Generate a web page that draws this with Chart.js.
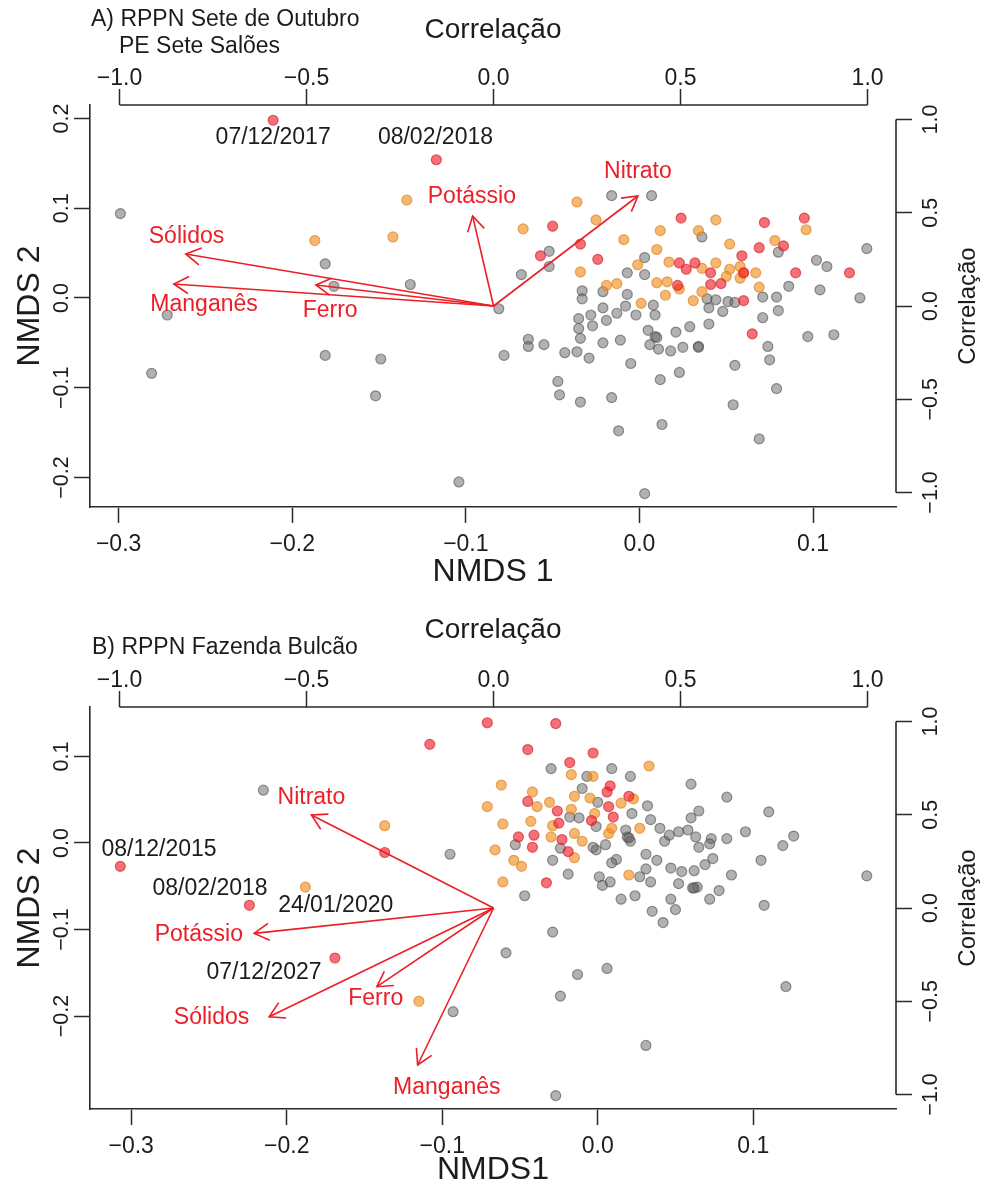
<!DOCTYPE html>
<html><head><meta charset="utf-8">
<script src="https://cdn.jsdelivr.net/npm/chart.js@4.4.1/dist/chart.umd.min.js"></script>
<style>
html,body{margin:0;padding:0;background:#fff;overflow:hidden;width:983px;height:1187px;}
.panel{position:absolute;left:0;width:983px;height:600px;}
#wa{top:0}#wb{top:600px}
canvas{display:block}
</style></head><body>
<div class="panel" id="wa"><canvas id="ca" width="983" height="600" style="width:983px;height:600px"></canvas></div>
<div class="panel" id="wb"><canvas id="cb" width="983" height="600" style="width:983px;height:600px"></canvas></div>
<script>
// ---------- tick labels ----------
const nmdsXTicks = [-0.3, -0.2, -0.1, 0.0, 0.1];
const nmdsYTicksA = [-0.2, -0.1, 0.0, 0.1, 0.2];
const nmdsYTicksB = [-0.2, -0.1, 0.0, 0.1];
const corrTicks = [-1.0, -0.5, 0.0, 0.5, 1.0];

// ---------- Panel A: RPPN Sete de Outubro / PE Sete Salões ----------
const grayA = [
[-0.299,0.094],[-0.181,0.038],[-0.176,0.013],[-0.132,0.015],[-0.272,-0.019],[-0.081,-0.012],
[-0.181,-0.064],[-0.149,-0.068],[-0.281,-0.084],[-0.152,-0.109],[-0.104,-0.205],[-0.078,-0.064],
[-0.016,0.114],[0.007,0.114],[-0.052,0.052],[-0.052,0.035],[-0.068,0.026],[0.003,0.045],
[-0.007,0.028],[0.003,0.026],[0.036,0.068],[0.080,0.051],[0.131,0.055],[0.102,0.042],
[0.108,0.035],[0.127,0.000],[0.104,0.009],[0.086,0.013],[0.079,0.001],[0.071,0.001],
[0.080,-0.014],[0.071,-0.022],[0.097,-0.043],[0.112,-0.041],[0.074,-0.054],[0.075,-0.069],
[0.055,-0.075],[0.079,-0.101],[0.054,-0.119],[0.069,-0.157],[0.003,-0.218],[0.013,-0.141],
[-0.012,-0.148],[-0.016,-0.111],[-0.034,-0.116],[-0.046,-0.108],[-0.047,-0.093],[0.012,-0.091],
[0.023,-0.083],[-0.005,-0.073],[-0.029,-0.067],[-0.036,-0.060],[-0.043,-0.061],[-0.055,-0.052],
[-0.064,-0.054],[-0.064,-0.046],[-0.034,-0.045],[-0.035,-0.034],[-0.035,-0.023],[-0.033,0.008],
[-0.033,-0.001],[-0.021,0.007],[-0.021,-0.011],[-0.028,-0.019],[-0.027,-0.031],[-0.019,-0.025],
[-0.013,-0.017],[-0.008,-0.009],[-0.007,0.004],[-0.002,-0.019],[-0.021,-0.050],[-0.011,-0.047],
[0.005,-0.036],[0.008,-0.008],[0.009,-0.019],[0.009,-0.043],[0.006,-0.052],[0.011,-0.057],
[0.018,-0.059],[0.025,-0.055],[0.021,-0.038],[0.029,-0.032],[0.034,-0.054],[0.040,-0.029],
[0.040,-0.011],[0.039,-0.001],[0.044,-0.002],[0.048,-0.015],[0.051,-0.004],[0.055,-0.005],
[0.010,-0.044],[0.034,-0.055]
];
const orangeA = [
[-0.187,0.064],[-0.142,0.068],[-0.134,0.109],[-0.036,0.107],[-0.067,0.077],[-0.025,0.087],
[-0.009,0.065],[0.012,0.075],[0.044,0.087],[0.034,0.075],[0.052,0.060],[0.078,0.064],
[0.096,0.076],[0.010,0.054],[-0.001,0.037],[-0.034,0.029],[0.017,0.040],[0.036,0.033],
[0.044,0.039],[0.052,0.032],[0.058,0.035],[0.067,0.028],[0.050,0.024],[0.058,0.022],
[0.010,0.017],[0.016,0.018],[0.023,0.010],[0.015,0.003],[-0.013,0.016],[-0.019,0.014],
[0.001,-0.006],[0.031,-0.003],[0.036,0.007],[0.069,0.012],[0.060,0.028]
];
const redA = [
[-0.211,0.198],[-0.117,0.154],[-0.050,0.080],[-0.057,0.047],[-0.034,0.060],[-0.024,0.043],
[0.024,0.089],[0.072,0.084],[0.095,0.089],[0.069,0.056],[0.083,0.058],[0.059,0.047],
[0.023,0.039],[0.027,0.032],[0.032,0.039],[0.041,0.028],[0.041,0.015],[0.047,0.016],
[0.022,0.014],[0.060,0.028],[0.060,-0.003],[0.090,0.028],[0.121,0.028],[0.065,-0.040]
];
const envA = ['Sólidos', 'Manganês', 'Ferro', 'Potássio', 'Nitrato'];
const arrowA_x = [-0.823, -0.855, -0.475, -0.056, 0.386];
const arrowA_y = [0.279, 0.118, 0.113, 0.483, 0.590];
const labelA_x = [-0.821, -0.774, -0.437, -0.058, 0.386];
const labelA_y = [0.372, 0.009, -0.027, 0.584, 0.720];
const datesA = ['07/12/2017', '08/02/2018'];
const datesA_x = [-0.211, -0.1175];
const datesA_y = [0.1786, 0.1786];

// ---------- Panel B: RPPN Fazenda Bulcão ----------
const grayB = [
[-0.215,0.061],[-0.095,-0.013],[-0.059,-0.127],[-0.093,-0.195],
[-0.030,0.086],[0.009,0.086],[0.021,0.077],[-0.007,0.077],[-0.010,0.063],[0.000,0.047],
[0.032,0.043],[0.022,0.034],[-0.018,0.030],[-0.012,0.029],[-0.001,0.019],[0.034,0.027],
[0.040,0.017],[0.060,0.068],[0.083,0.053],[0.065,0.037],[0.060,0.029],[0.110,0.036],
[0.046,0.009],[0.052,0.013],[0.058,0.015],[0.043,0.002],[0.063,0.007],[0.065,-0.005],
[0.073,0.005],[0.072,-0.001],[0.083,0.005],[0.095,0.013],[0.126,0.008],[0.119,-0.003],
[0.105,-0.020],[0.086,-0.037],[0.074,-0.018],[0.069,-0.025],[0.062,-0.032],[0.054,-0.033],
[0.047,-0.029],[0.038,-0.020],[0.031,-0.013],[0.031,-0.030],[0.034,-0.045],[0.027,-0.039],
[0.019,0.007],[0.021,0.002],[0.018,0.015],[0.012,-0.019],[0.009,-0.023],[0.005,-0.002],
[-0.001,-0.008],[-0.003,-0.005],[0.001,-0.039],[0.003,-0.049],[0.008,-0.045],[0.015,-0.065],
[0.024,-0.061],[0.035,-0.079],[0.042,-0.092],[0.047,-0.065],[0.050,-0.077],[0.052,-0.047],
[0.061,-0.052],[0.064,-0.051],[0.072,-0.065],[0.078,-0.055],[0.107,-0.072],[0.173,-0.038],
[-0.019,-0.036],[-0.029,-0.020],[-0.024,-0.006],[-0.053,-0.002],[-0.047,-0.061],[-0.029,-0.103],
[-0.013,-0.152],[0.006,-0.145],[-0.024,-0.177],[0.031,-0.234],[0.121,-0.166],[-0.027,-0.292],
[0.020,0.006],[0.062,-0.052]
];
const orangeB = [
[-0.062,0.067],[-0.071,0.042],[-0.061,0.022],[-0.066,-0.008],[-0.061,-0.045],[-0.137,0.020],
[-0.188,-0.051],[-0.115,-0.183],
[0.033,0.089],[-0.017,0.079],[-0.003,0.077],[-0.042,0.059],[-0.039,0.042],[-0.031,0.047],
[-0.015,0.054],[-0.017,0.039],[-0.005,0.052],[-0.002,0.034],[0.015,0.046],[0.023,0.051],
[-0.043,0.025],[-0.029,0.020],[-0.030,0.007],[-0.015,0.011],[-0.010,0.002],[0.007,0.011],
[0.009,0.017],[0.027,0.017],[-0.054,-0.020],[-0.049,-0.027],[-0.015,-0.017],[0.020,-0.037]
];
const redB = [
[-0.307,-0.027],[-0.224,-0.072],[-0.169,-0.133],
[-0.071,0.139],[-0.108,0.114],[-0.137,-0.011],
[-0.027,0.138],[-0.045,0.108],[-0.018,0.093],[-0.003,0.104],[0.008,0.066],[0.006,0.059],
[-0.045,0.048],[-0.026,0.037],[-0.025,0.023],[-0.004,0.026],[0.007,0.042],[0.010,0.030],
[0.020,0.054],[-0.051,0.007],[-0.041,0.009],[-0.042,-0.005],[-0.023,0.004],[-0.019,-0.010],
[-0.033,-0.046]
];
const envB = ['Nitrato', 'Potássio', 'Sólidos', 'Ferro', 'Manganês'];
const arrowB_x = [-0.487, -0.640, -0.600, -0.312, -0.203];
const arrowB_y = [0.499, -0.136, -0.583, -0.422, -0.842];
const labelB_x = [-0.487, -0.788, -0.754, -0.315, -0.125];
const labelB_y = [0.594, -0.141, -0.588, -0.484, -0.961];
const datesB = ['08/12/2015', '08/02/2018', '24/01/2020', '07/12/2027'];
const datesB_x = [-0.2821, -0.2493, -0.1685, -0.2146];
const datesB_y = [-0.0073, -0.0524, -0.0725, -0.1495];

// ---------- styling ----------
const FONT = "'Liberation Sans', Arial, Helvetica, sans-serif";
const TXT = '#1c1c1c';
const AX = '#2a2a2a';
const RED = 'rgb(236,30,38)';

function fmt(v) {
  const s = Math.abs(v).toFixed(1);
  return (v < -1e-9 ? '\u2212' : '') + s;
}
function pts(arr) { return arr.map(p => ({x: p[0], y: p[1]})); }

const extras = {
  id: 'extras',
  afterDatasetsDraw(chart, args, o) {
    const ctx = chart.ctx, ca = chart.chartArea;
    const sx = chart.scales.x2, sy = chart.scales.y2;
    const nx = chart.scales.x, ny = chart.scales.y;
    ctx.save();
    // correlation axis lines between first and last tick
    ctx.strokeStyle = AX; ctx.lineWidth = 1.6;
    ctx.beginPath();
    ctx.moveTo(sx.getPixelForValue(corrTicks[0]), ca.top);
    ctx.lineTo(sx.getPixelForValue(corrTicks[corrTicks.length - 1]), ca.top);
    ctx.moveTo(ca.right, sy.getPixelForValue(corrTicks[0]));
    ctx.lineTo(ca.right, sy.getPixelForValue(corrTicks[corrTicks.length - 1]));
    ctx.stroke();
    // arrow heads
    const L = 17, a = Math.PI / 6;
    chart.data.datasets.forEach((ds, i) => {
      if (!ds.isArrow) return;
      const m = chart.getDatasetMeta(i);
      const p0 = m.data[0], p1 = m.data[1];
      const ang = Math.atan2(p1.y - p0.y, p1.x - p0.x);
      ctx.strokeStyle = RED; ctx.lineWidth = 1.6;
      ctx.beginPath();
      ctx.moveTo(p1.x - L * Math.cos(ang - a), p1.y - L * Math.sin(ang - a));
      ctx.lineTo(p1.x, p1.y);
      ctx.lineTo(p1.x - L * Math.cos(ang + a), p1.y - L * Math.sin(ang + a));
      ctx.stroke();
    });
    // variable labels (correlation space)
    ctx.font = '23px ' + FONT;
    ctx.textAlign = 'center'; ctx.textBaseline = 'middle';
    ctx.fillStyle = RED;
    o.env.forEach((t, i) => {
      ctx.fillText(t, sx.getPixelForValue(o.lx[i]), sy.getPixelForValue(o.ly[i]));
    });
    // date labels (NMDS space)
    ctx.fillStyle = TXT;
    o.dates.forEach((t, i) => {
      ctx.fillText(t, nx.getPixelForValue(o.dx[i]), ny.getPixelForValue(o.dy[i]));
    });
    // panel title
    ctx.textAlign = 'left';
    o.title.forEach(tl => ctx.fillText(tl[0], tl[1], tl[2]));
    // right axis title
    ctx.save();
    ctx.translate(968, (ca.top + ca.bottom) / 2);
    ctx.rotate(-Math.PI / 2);
    ctx.textAlign = 'center';
    ctx.font = '24px ' + FONT;
    ctx.fillText('Correlação', 0, 0);
    ctx.restore();
    ctx.restore();
  }
};

function makeChart(canvas, P) {
  const datasets = [];
  P.ax.forEach((v, i) => {
    datasets.push({
      isArrow: true, showLine: true, xAxisID: 'x2', yAxisID: 'y2', order: 0,
      data: [{x: 0, y: 0}, {x: P.ax[i], y: P.ay[i]}],
      borderColor: RED, borderWidth: 1.6, pointRadius: 0, fill: false, tension: 0
    });
  });
  const ptStyle = (fill, stroke) => ({pointRadius: 5, pointBorderWidth: 1.2,
    backgroundColor: fill, borderColor: stroke, pointBackgroundColor: fill, pointBorderColor: stroke});
  datasets.push(Object.assign({data: pts(P.red), xAxisID: 'x', yAxisID: 'y', order: 1},
    ptStyle('rgba(240,25,35,0.62)', 'rgba(215,30,40,0.65)')));
  datasets.push(Object.assign({data: pts(P.orange), xAxisID: 'x', yAxisID: 'y', order: 2},
    ptStyle('rgba(240,140,25,0.62)', 'rgba(222,128,30,0.65)')));
  datasets.push(Object.assign({data: pts(P.gray), xAxisID: 'x', yAxisID: 'y', order: 3},
    ptStyle('rgba(100,100,100,0.5)', 'rgba(70,70,70,0.55)')));

  const grid = {drawOnChartArea: false, drawTicks: true, tickLength: 16, tickColor: AX, tickWidth: 1.5};
  const hTick = (pad) => ({font: {family: FONT, size: 23}, color: TXT, padding: pad,
    maxRotation: 0, minRotation: 0, autoSkip: false, callback: fmt});
  const vTick = (pad) => ({font: {family: FONT, size: 21.5}, color: TXT, padding: pad,
    minRotation: 90, maxRotation: 90, crossAlign: 'center', autoSkip: false, callback: fmt});
  const setTicks = arr => (s => { s.ticks = arr.map(v => ({value: v})); });

  return new Chart(canvas, {
    type: 'scatter',
    data: {datasets},
    options: {
      responsive: false, animation: false, events: [],
      layout: {padding: 0},
      plugins: {legend: {display: false}, tooltip: {enabled: false}, extras: P.extras},
      scales: {
        x: {type: 'linear', position: 'bottom', min: P.xmin, max: P.xmax,
          afterBuildTicks: setTicks(nmdsXTicks), afterFit: s => { s.height = P.bottomH; },
          grid, border: {display: true, color: AX, width: 1.6}, ticks: hTick(8),
          title: {display: true, text: P.xTitle, color: TXT, font: {family: FONT, size: 32},
            padding: {top: 0, bottom: P.xTitlePad}}},
        y: {type: 'linear', position: 'left', min: P.ymin, max: P.ymax,
          afterBuildTicks: setTicks(P.yTicks), afterFit: s => { s.width = 90; },
          grid, border: {display: true, color: AX, width: 1.6}, ticks: vTick(-9),
          title: {display: true, text: 'NMDS 2', color: TXT, font: {family: FONT, size: 32},
            padding: {top: 11, bottom: 0}}},
        x2: {type: 'linear', position: 'top', min: -1.079, max: 1.076,
          afterBuildTicks: setTicks(corrTicks), afterFit: s => { s.height = P.topH; },
          grid, border: {display: false}, ticks: hTick(-3),
          title: {display: true, text: 'Correlação', color: TXT, font: {family: FONT, size: 28},
            padding: {top: 13, bottom: 0}}},
        y2: {type: 'linear', position: 'right', min: -1.078, max: 1.078,
          afterBuildTicks: setTicks(corrTicks), afterFit: s => { s.width = 87; },
          grid, border: {display: false}, ticks: vTick(-2)}
      }
    },
    plugins: [extras]
  });
}

makeChart(document.getElementById('ca'), {
  gray: grayA, orange: orangeA, red: redA, ax: arrowA_x, ay: arrowA_y,
  xmin: -0.3165, xmax: 0.1478, ymin: -0.2329, ymax: 0.2150, yTicks: nmdsYTicksA,
  topH: 105, bottomH: 93, xTitle: 'NMDS 1', xTitlePad: 9,
  extras: {env: envA, lx: labelA_x, ly: labelA_y, dates: datesA, dx: datesA_x, dy: datesA_y,
    title: [['A) RPPN Sete de Outubro', 91, 20], ['PE Sete Salões', 119, 47]]}
});
makeChart(document.getElementById('cb'), {
  gray: grayB, orange: orangeB, red: redB, ax: arrowB_x, ay: arrowB_y,
  xmin: -0.3265, xmax: 0.1918, ymin: -0.3075, ymax: 0.1572, yTicks: nmdsYTicksB,
  topH: 107, bottomH: 91, xTitle: 'NMDS1', xTitlePad: 11,
  extras: {env: envB, lx: labelB_x, ly: labelB_y, dates: datesB, dx: datesB_x, dy: datesB_y,
    title: [['B) RPPN Fazenda Bulcão', 92, 48]]}
});
</script>
</body></html>
